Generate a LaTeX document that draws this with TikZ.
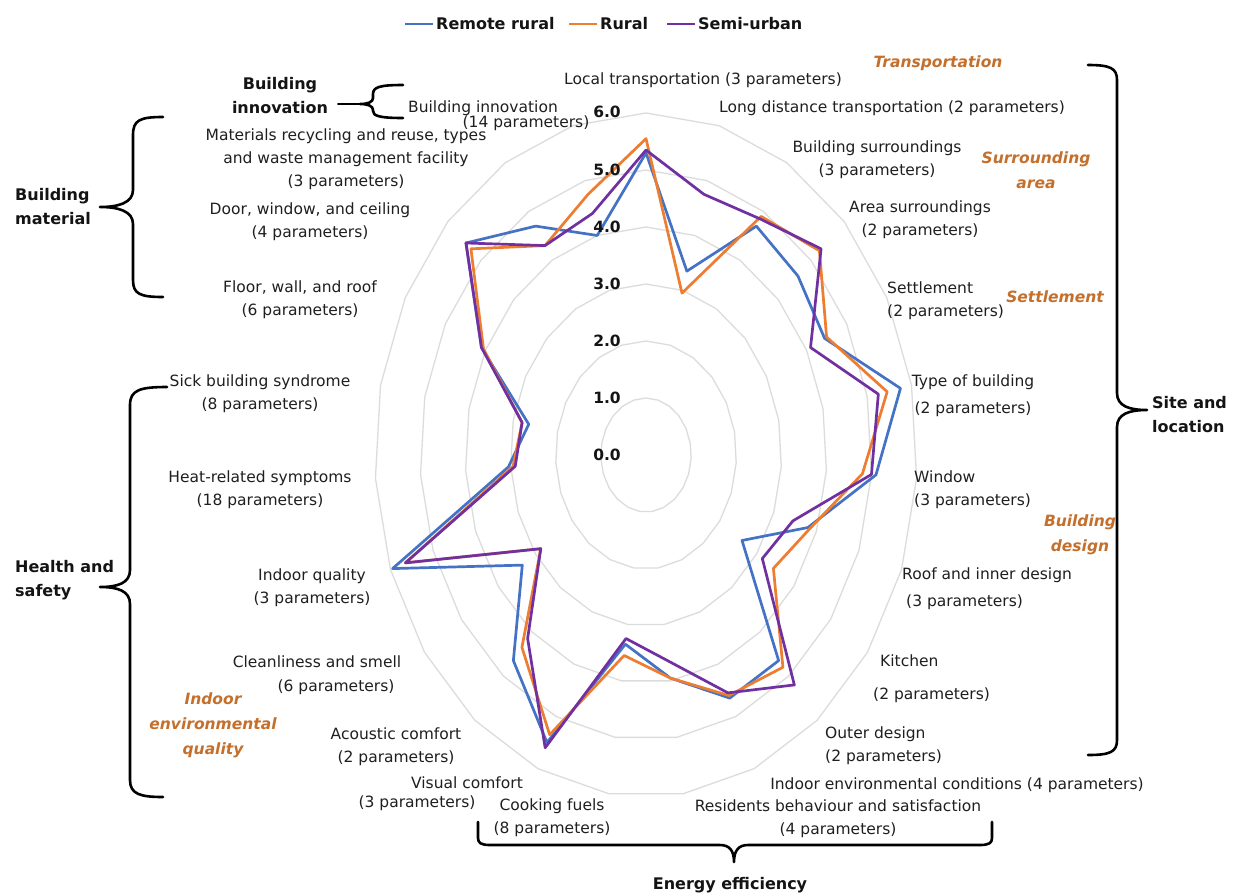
\documentclass[tikz,border=0pt]{standalone}
\usepackage{fontspec}
\setmainfont{DejaVu Sans}
\definecolor{sblue}{HTML}{4472C4}
\definecolor{sorange}{HTML}{ED7D31}
\definecolor{spurple}{HTML}{7030A0}
\definecolor{catc}{RGB}{196,112,44}
\definecolor{gridc}{RGB}{220,220,220}
\begin{document}
\begin{tikzpicture}[x=1pt,y=-1pt,
 lab/.style={font=\fontsize{15.5}{23}\selectfont, inner sep=0pt, align=center, text=black!88},
 grp/.style={font=\bfseries\fontsize{16}{24}\selectfont, inner sep=0pt, text=black!92},
 sub/.style={font=\bfseries\itshape\fontsize{15.5}{25}\selectfont, inner sep=0pt, align=center, text=catc},
 scl/.style={font=\bfseries\fontsize{15.5}{18}\selectfont, inner sep=0pt, text=black!92},
 brk/.style={line width=2.6pt, line cap=round, line join=round},
 ser/.style={line width=2.7pt, line join=round},
 gridl/.style={draw=gridc, line width=1.3pt}]
\fill[white] (0,0) rectangle (1257,895);
\useasboundingbox (0,0) rectangle (1257,895);

% radar
\begin{scope}[shift={(646,455)}, x=45.2pt, y=57pt]
\foreach \r in {1,...,6}
  \draw[gridl] (90:\r) \foreach \k in {1,...,22} {-- ({90-\k*360/23}:\r)} -- cycle;
\draw[ser, sblue] (90:5.3) \foreach \v [count=\k] in
  {3.35,4.7,4.6,4.45,5.75,5.1,3.8,2.6,4.65,4.65,3.95,3.35,5.5,4.65,3.35,5.95,3.05,2.65,4.1,5.45,4.7,4.0}
  {-- ({90-\k*360/23}:\v)} -- cycle;
\draw[ser, sorange] (90:5.55) \foreach \v [count=\k] in
  {2.95,4.9,5.25,4.5,5.45,4.8,3.85,3.45,4.8,4.6,3.95,3.55,5.35,4.35,2.85,5.65,2.95,2.8,4.05,5.3,4.3,4.75}
  {-- ({90-\k*360/23}:\v)} -- cycle;
\draw[ser, spurple] (90:5.35) \foreach \v [count=\k] in
  {4.75,4.85,5.3,4.1,5.25,5.0,3.45,3.15,5.2,4.55,3.65,3.25,5.6,4.15,2.85,5.65,2.9,2.8,4.1,5.45,4.3,4.4}
  {-- ({90-\k*360/23}:\v)} -- cycle;
\end{scope}

% scale labels
\foreach \v/\y in {0/455,1/398,2/341,3/284,4/227,5/170,6/112}
  \node[scl] (s\v) at (607,\y) {\v.0};

% legend
\node[grp, anchor=west] (lgA) at (436,24) {Remote rural};
\node[grp, anchor=west] (lgB) at (600,24) {Rural};
\node[grp, anchor=west] (lgC) at (698,24) {Semi-urban};
\draw[line width=2.4pt, sblue] (lgA.west) ++(-31,0) -- ++(28,0);
\draw[line width=2.4pt, sorange] (lgB.west) ++(-31,0) -- ++(28,0);
\draw[line width=2.4pt, spurple] (lgC.west) ++(-31,0) -- ++(28,0);

% axis labels
\node[lab] (l0) at (703,80) {Local transportation (3 parameters)};
\node[lab] (l1) at (892,108) {Long distance transportation (2 parameters)};
\node[lab] (l2) at (877,160) {Building surroundings\\(3 parameters)};
\node[lab] (l3) at (920,220) {Area surroundings\\(2 parameters)};
\node[lab, anchor=west, align=left] (l4) at (887,301) {Settlement\\(2 parameters)};
\node[lab] (l5) at (973,396) {Type of building\\[4pt](2 parameters)};
\node[lab, anchor=west, align=left] (l6) at (914,490) {Window\\(3 parameters)};
\node[lab, anchor=west, align=left] (l7) at (902,589) {Roof and inner design\\[4pt]\hspace{4pt}(3 parameters)};
\node[lab, anchor=west, align=left] (l8) at (873,679) {\hspace{7pt}Kitchen\\[10pt](2 parameters)};
\node[lab, anchor=west, align=left] (l9) at (825,746) {Outer design\\(2 parameters)};
\node[lab] (l10) at (957,785) {Indoor environmental conditions (4 parameters)};
\node[lab] (l11) at (838,819) {Residents behaviour and satisfaction\\(4 parameters)};
\node[lab] (l12) at (552,818) {Cooking fuels\\(8 parameters)};
\node[lab] (l13a) at (467,783) {Visual comfort};
\node[lab] (l13b) at (417,803) {(3 parameters)};
\node[lab] (l14) at (396,747) {Acoustic comfort\\(2 parameters)};
\node[lab] (l15a) at (317,662) {Cleanliness and smell};
\node[lab] (l15b) at (336,687) {(6 parameters)};
\node[lab] (l16) at (312,588) {Indoor quality\\(3 parameters)};
\node[lab] (l17) at (260,490) {Heat-related symptoms\\(18 parameters)};
\node[lab] (l18) at (260,394) {Sick building syndrome\\(8 parameters)};
\node[lab] (l19) at (300,300) {Floor, wall, and roof\\(6 parameters)};
\node[lab] (l20) at (310,222) {Door, window, and ceiling\\(4 parameters)};
\node[lab] (l21) at (346,159) {Materials recycling and reuse, types\\and waste management facility\\(3 parameters)};
\node[lab] (l22a) at (483,108) {Building innovation};
\node[lab] (l22b) at (526,123) {(14 parameters)};

% orange sub-category labels
\node[sub] (cTr) at (938,63) {Transportation};
\node[sub] (cSa) at (1036,170) {Surrounding\\area};
\node[sub] (cSe) at (1055,297) {Settlement};
\node[sub] (cBd) at (1080,535) {Building\\design};
\node[sub] (cIe) at (213,725) {Indoor\\environmental\\quality};

% group labels
\node[grp, align=center] (binn) at (280,96) {Building\\innovation};
\node[grp, align=left, anchor=west] (bmat) at (15,207) {Building\\material};
\node[grp, align=left, anchor=west] (hs) at (15,580) {Health and\\safety};
\node[grp, align=left, anchor=west] (sl) at (1152,415) {Site and\\location};
\node[grp] (ee) at (730,885) {Energy efficiency};

% braces
\draw[brk] (163,117) .. controls (140,117) and (133,120) .. (133,135) -- (133,190)
  .. controls (133,203) and (118,207) .. (100,207)
  .. controls (118,207) and (133,211) .. (133,224) -- (133,280)
  .. controls (133,294) and (140,297) .. (163,297);
\coordinate (bitip) at (360,104);
\draw[brk] (403,85) .. controls (380,85) and (373,87) .. (373,94) -- (373,98)
  .. controls (373,102) and (368,104) .. (bitip)
  .. controls (368,104) and (373,106) .. (373,110) -- (373,111)
  .. controls (373,116) and (380,118) .. (403,118);
\draw[brk] (binn.east |- bitip) ++(10,0) -- (bitip);
\draw[brk] (167,387) .. controls (140,387) and (130,390) .. (130,405) -- (130,570)
  .. controls (130,583) and (118,587) .. (100,587)
  .. controls (118,587) and (130,591) .. (130,604) -- (130,780)
  .. controls (130,794) and (140,797) .. (163,797);
\draw[brk] (1088,65) .. controls (1110,65) and (1117,68) .. (1117,80) -- (1117,393)
  .. controls (1117,406) and (1129,410) .. (1147,410)
  .. controls (1129,410) and (1117,414) .. (1117,427) -- (1117,740)
  .. controls (1117,752) and (1110,755) .. (1088,755);
\draw[brk] (478,822) -- (478,838) .. controls (478,843) and (481,845) .. (490,845) -- (720,845)
  .. controls (729,845) and (734,850) .. (734,862)
  .. controls (734,850) and (739,845) .. (748,845) -- (980,845)
  .. controls (989,845) and (992,843) .. (992,838) -- (992,822);
\end{tikzpicture}
\end{document}
